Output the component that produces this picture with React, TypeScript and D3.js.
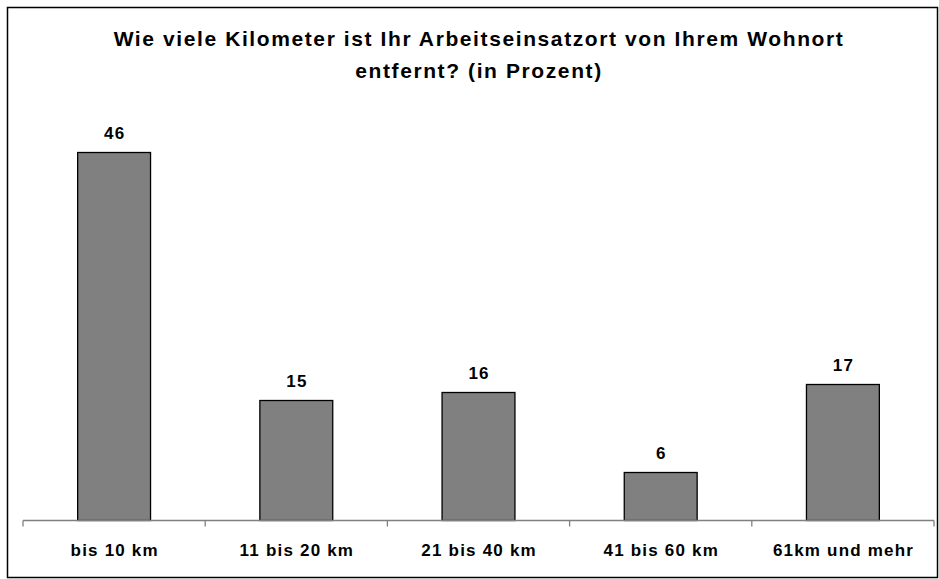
import React, { useEffect, useRef } from 'react';
import * as d3 from 'd3';

const categories = ['bis 10 km', '11 bis 20 km', '21 bis 40 km', '41 bis 60 km', '61km und mehr'];
const values = [46, 15, 16, 6, 17];
const titleLines = [
  'Wie viele Kilometer ist Ihr Arbeitseinsatzort von Ihrem Wohnort',
  'entfernt? (in Prozent)',
];

const App = () => {
  const svgRef = useRef<SVGSVGElement>(null);

  useEffect(() => {
    const width = 939;
    const height = 579;
    const svg = d3.select(svgRef.current);
    svg.selectAll('*').remove();
    svg.attr('width', width).attr('height', height).style('font-family', '"Liberation Sans", Arial, sans-serif');

    // cadre
    svg.append('rect')
      .attr('x', 7.5).attr('y', 7.5)
      .attr('width', 930).attr('height', 570)
      .attr('fill', '#fff').attr('stroke', '#000').attr('stroke-width', 1.5);

    const x0 = 23, x1 = 934;
    const y0 = 520.5;
    const x = d3.scaleBand().domain(categories).range([x0, x1]).paddingInner(0.6).paddingOuter(0.3);
    const y = d3.scaleLinear().domain([0, 50]).range([y0, y0 - 400]);

    // titre
    svg.append('g').selectAll('text')
      .data(titleLines).join('text')
      .attr('x', 479).attr('y', (d, i) => 46 + i * 32)
      .attr('text-anchor', 'middle')
      .style('font-size', '21px').style('font-weight', 'bold')
      .style('letter-spacing', '1.6px')
      .text(d => d);

    // barres
    svg.append('g').selectAll('rect')
      .data(values).join('rect')
      .attr('x', (d, i) => x(categories[i])!)
      .attr('y', d => y(d))
      .attr('width', x.bandwidth())
      .attr('height', d => y0 - y(d))
      .attr('fill', '#808080').attr('stroke', '#000').attr('stroke-width', 1.3);

    // valeurs
    svg.append('g').selectAll('text')
      .data(values).join('text')
      .attr('x', (d, i) => x(categories[i])! + x.bandwidth() / 2 + 0.6)
      .attr('y', d => y(d) - 13.5)
      .attr('text-anchor', 'middle')
      .style('font-size', '17px').style('font-weight', 'bold')
      .style('letter-spacing', '1.2px')
      .text(d => d);

    // axe
    const axis = svg.append('g');
    axis.append('line')
      .attr('x1', x0).attr('x2', x1).attr('y1', y0).attr('y2', y0)
      .attr('stroke', '#808080').attr('stroke-width', 1.3);
    const step = (x1 - x0) / categories.length;
    axis.selectAll('line.tick')
      .data(d3.range(categories.length + 1)).join('line')
      .attr('class', 'tick')
      .attr('x1', i => x0 + i * step).attr('x2', i => x0 + i * step)
      .attr('y1', y0).attr('y2', y0 + 6)
      .attr('stroke', '#808080').attr('stroke-width', 1.3);
    axis.selectAll('text')
      .data(categories).join('text')
      .attr('x', d => x(d)! + x.bandwidth() / 2 + 0.6)
      .attr('y', 556)
      .attr('text-anchor', 'middle')
      .style('font-size', '17px').style('font-weight', 'bold')
      .style('letter-spacing', '1.2px')
      .text(d => d);
  }, []);

  return <svg ref={svgRef} style={{ position: 'absolute', left: 0, top: 0 }}></svg>;
};

export default App;
